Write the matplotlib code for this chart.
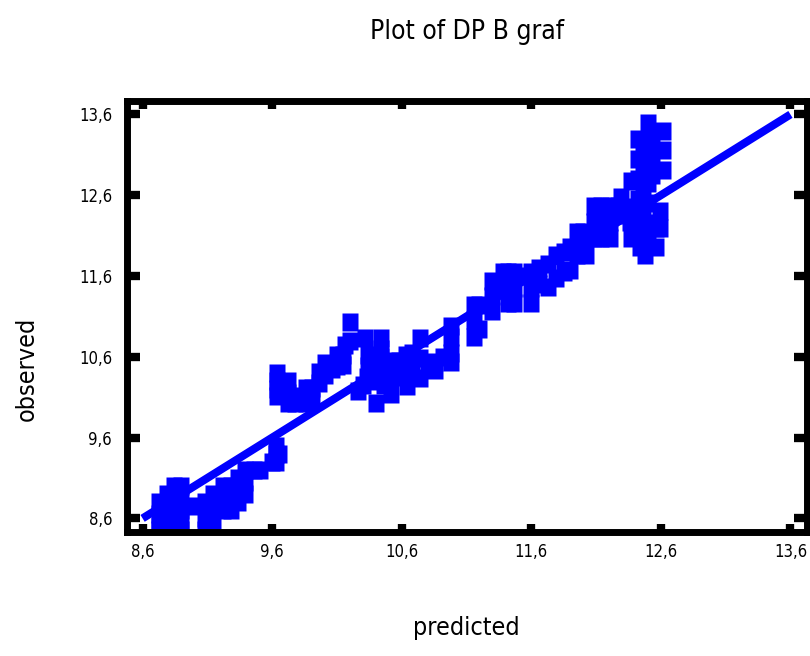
import matplotlib
matplotlib.use('Agg')
import matplotlib.pyplot as plt
from matplotlib import font_manager
from matplotlib.ticker import FuncFormatter

# predicted vs observed values (observed is recorded to 0.1)
predicted = [8.73, 8.73, 8.73, 8.73, 8.79, 8.79, 8.79, 8.79, 8.84, 8.84, 8.84, 8.84,
             8.84, 8.90, 8.90, 8.90, 8.90, 8.90, 8.99,
             9.08, 9.08, 9.08, 9.14, 9.14, 9.14, 9.22, 9.22, 9.22, 9.28, 9.28, 9.28,
             9.34, 9.34, 9.34, 9.39, 9.39, 9.39, 9.46, 9.51, 9.60, 9.63, 9.63, 9.63,
             9.65,
             9.64, 9.64, 9.64, 9.64, 9.72, 9.72, 9.72, 9.78, 9.78, 9.86, 9.86, 9.86,
             9.91, 9.91, 9.96, 9.96, 10.01, 10.01, 10.06, 10.10, 10.10, 10.15, 10.15,
             10.16, 10.20, 10.20, 10.26, 10.30, 10.33, 10.32, 10.34, 10.34, 10.40,
             10.40, 10.40, 10.44, 10.44, 10.44, 10.46, 10.52, 10.52, 10.52, 10.58,
             10.58, 10.63, 10.63, 10.64, 10.68, 10.68, 10.74, 10.74, 10.74, 10.80,
             10.86, 10.86, 10.92, 10.98, 10.98, 10.98, 10.98,
             11.16, 11.16, 11.16, 11.20, 11.20, 11.30, 11.30, 11.30, 11.34, 11.38,
             11.42, 11.42, 11.42, 11.47, 11.47, 11.47, 11.53, 11.60, 11.60, 11.60,
             11.66, 11.66, 11.73, 11.73, 11.79, 11.79, 11.85, 11.85, 11.90, 11.90,
             11.95, 11.95, 12.00, 12.00, 12.02, 12.08, 12.08, 12.08, 12.14, 12.14,
             12.14, 12.21, 12.21, 12.21, 12.27, 12.27, 12.29, 12.34, 12.36, 12.37,
             12.37, 12.44, 12.42, 12.42, 12.42, 12.42, 12.42, 12.46, 12.46, 12.46,
             12.46, 12.46, 12.48, 12.50, 12.50, 12.50, 12.50, 12.50, 12.50, 12.50,
             12.53, 12.53, 12.53, 12.56, 12.56, 12.59, 12.59, 12.615, 12.615, 12.615]
observed = [8.80, 8.65, 8.50, 8.45, 8.90, 8.75, 8.60, 8.45, 9.00, 8.85, 8.70, 8.55,
            8.45, 9.00, 8.85, 8.70, 8.55, 8.45, 8.75,
            8.80, 8.60, 8.45, 8.90, 8.75, 8.55, 9.00, 8.85, 8.70, 9.00, 8.85, 8.70,
            9.10, 8.95, 8.80, 9.20, 9.05, 8.90, 9.20, 9.20, 9.30, 9.50, 9.40, 9.30,
            9.40,
            10.40, 10.30, 10.20, 10.12, 10.30, 10.15, 10.03, 10.11, 10.03, 10.21, 10.10,
            10.03, 10.21, 10.05, 10.41, 10.28, 10.52, 10.38, 10.45, 10.62, 10.48, 10.50,
            10.62, 10.75, 10.80, 11.03, 10.18, 10.25, 10.35, 10.83, 10.62, 10.48, 10.50,
            10.30, 10.03, 10.83, 10.60, 10.70, 10.25, 10.14, 10.44, 10.55, 10.35,
            10.55, 10.62, 10.45, 10.24, 10.45, 10.65, 10.34, 10.58, 10.83, 10.50,
            10.44, 10.54, 10.60, 10.54, 10.65, 10.85, 10.98,
            10.85, 11.05, 11.24, 11.24, 10.95, 11.17, 11.35, 11.54, 11.45, 11.65,
            11.65, 11.45, 11.26, 11.26, 11.45, 11.65, 11.60, 11.26, 11.45, 11.65,
            11.70, 11.50, 11.46, 11.75, 11.57, 11.86, 11.90, 11.65, 11.68, 11.96,
            11.86, 12.15, 12.15, 12.00, 11.86, 12.07, 12.27, 12.47, 12.47, 12.27,
            12.07, 12.07, 12.27, 12.47, 12.47, 12.35, 12.58, 12.45, 12.27, 12.78,
            12.07, 11.96, 13.30, 13.05, 12.80, 12.55, 12.30, 13.10, 12.85, 12.60,
            12.35, 12.10, 11.86, 13.49, 13.25, 13.00, 12.75, 12.50, 12.25, 12.05,
            13.35, 13.10, 12.85, 11.96, 12.20, 12.20, 12.40, 13.40, 13.16, 12.91]
ticks = [8.6, 9.6, 10.6, 11.6, 12.6, 13.6]

# look for a narrow sans face for all the text
narrow = None
for f in font_manager.fontManager.ttflist:
    if f.style != 'normal' or f.weight not in (400, 'normal', 'regular'):
        continue
    if 'Narrow' in f.name or 'Condensed' in f.name or f.stretch in ('condensed', 'semi-condensed', 'extra-condensed'):
        narrow = f
        break
if narrow is not None:
    plt.rcParams['font.family'] = [narrow.name, 'DejaVu Sans']
    plt.rcParams['font.stretch'] = narrow.stretch
else:
    plt.rcParams['font.family'] = ['DejaVu Sans']

blue = '#0000ff'
box = [(-0.417, -0.5), (0.417, -0.5), (0.417, 0.5), (-0.417, 0.5)]

fig = plt.figure(figsize=(8.1, 6.56), dpi=100)
ax = fig.add_axes([0.1562, 0.1883, 0.8395, 0.6577])

ax.plot(predicted, observed, linestyle='none', marker=box, markersize=13,
        markerfacecolor=blue, markeredgecolor='none', antialiased=False)
ax.plot([ticks[0], ticks[-1]], [ticks[0], ticks[-1]], color=blue, lw=5.8,
        solid_capstyle='butt')

ax.set_xlim(8.476, 13.724)
ax.set_ylim(8.4255, 13.766)
ax.set_xticks(ticks)
ax.set_yticks(ticks)
comma = FuncFormatter(lambda v, p: f'{v:.1f}'.replace('.', ','))
ax.xaxis.set_major_formatter(comma)
ax.yaxis.set_major_formatter(comma)

for s in ax.spines.values():
    s.set_linewidth(5)
ax.tick_params(direction='in', top=True, right=True, width=6, labelsize=12)
ax.tick_params(axis='x', length=6, pad=7.5)
ax.tick_params(axis='y', length=9.7, pad=10.4)

ax.set_title('Plot of DP B graf', fontsize=19, pad=45)
ax.set_xlabel('predicted', fontsize=18, labelpad=40)
ax.set_ylabel('observed', fontsize=18, labelpad=29)
ax.yaxis.label.set_y(0.38)

fig.savefig('out.png', dpi=100)
